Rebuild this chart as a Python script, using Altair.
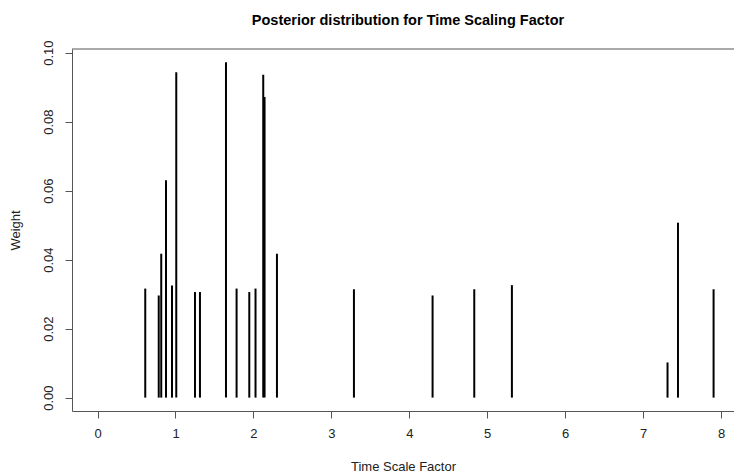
import altair as alt
import pandas as pd

# Values
scale_factor = [0.612, 0.785, 0.817, 0.878, 0.955, 1.010, 1.250, 1.314, 1.648,
                1.784, 1.947, 2.027, 2.126, 2.143, 2.302, 3.290, 4.299, 4.834,
                5.317, 7.314, 7.448, 7.905]
weight = [0.0316, 0.0296, 0.0417, 0.0630, 0.0325, 0.0943, 0.0306, 0.0306, 0.0972,
          0.0316, 0.0306, 0.0316, 0.0936, 0.0871, 0.0417, 0.0314, 0.0296, 0.0314,
          0.0326, 0.0102, 0.0507, 0.0314]
x_ticks = [0, 1, 2, 3, 4, 5, 6, 7, 8]
y_ticks = [0.00, 0.02, 0.04, 0.06, 0.08, 0.10]
title_text = ["Posterior distribution for Time Scaling Factor"]

df = pd.DataFrame({"x": scale_factor, "w": weight})

W, H = 662, 362
FONT = "Liberation Sans"
LINE = "#555555"
TXT = "#222222"

bars = alt.Chart(df).mark_rule(color="black", strokeWidth=2).encode(
    x=alt.X("x:Q",
            scale=alt.Scale(domain=[-0.328, 8.167], nice=False, zero=False),
            axis=alt.Axis(values=x_ticks, title="Time Scale Factor", grid=False,
                          tickSize=7, tickColor=LINE, domainColor=LINE,
                          labelFont=FONT, labelFontSize=13, labelColor=TXT,
                          labelPadding=9, labelFlush=False,
                          titleFont=FONT, titleFontSize=13, titleFontWeight="normal",
                          titleColor=TXT, titleY=55, titleBaseline="middle")),
    y=alt.Y("w:Q",
            scale=alt.Scale(domain=[-0.00388, 0.10104], nice=False, zero=False),
            axis=alt.Axis(values=y_ticks, format=".2f", title="Weight", grid=False,
                          tickSize=7, tickColor=LINE, domainColor=LINE,
                          labelFont=FONT, labelFontSize=13, labelColor=TXT,
                          labelAngle=-90, labelAlign="center", labelBaseline="bottom",
                          labelPadding=10, labelFlush=False,
                          titleFont=FONT, titleFontSize=13, titleFontWeight="normal",
                          titleColor=TXT, titleX=-57, titleY=H / 2,
                          titleAngle=270, titleAlign="center", titleBaseline="middle")),
    y2=alt.datum(0),
)

top_border = alt.Chart(pd.DataFrame({"a": [0]})).mark_rule(color=LINE, strokeWidth=1).encode(
    x=alt.value(0), x2=alt.value(W), y=alt.value(0)
)

title = alt.Chart(pd.DataFrame({"t": title_text})).mark_text(
    font=FONT, fontSize=14.5, fontWeight="bold", color="black",
    align="center", baseline="alphabetic"
).encode(text="t:N", x=alt.value(336), y=alt.value(-24.5))

chart = alt.layer(bars, top_border, title).properties(
    width=W, height=H,
    autosize=alt.AutoSizeParams(type="none"),
    padding={"left": 64, "top": 41, "right": 0, "bottom": 66},
).configure_view(stroke=None)

chart.save("out.html", embed_options={"renderer": "svg", "actions": False})
